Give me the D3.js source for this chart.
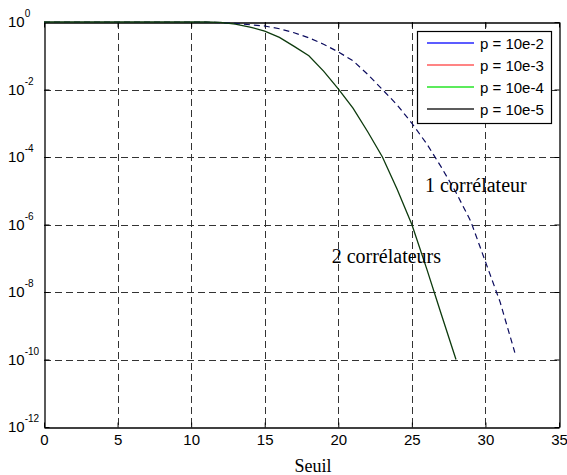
<!DOCTYPE html>
<html><head><meta charset="utf-8">
<script src="https://cdn.jsdelivr.net/npm/d3@7"></script>
<style>body{margin:0;background:#fff}svg{display:block}</style>
</head><body>
<svg id="c" width="567" height="475"></svg>
<script>
// ---- data ----
const seuil2 = [0,1,2,3,4,5,6,7,8,9,10,11,12,13,14,15,16,17,18,19,20,21,22,23,24,25,26,27,28];
const pfa2 = [1,1,1,1,1,1,1,1,1,1,1,1,0.98,0.87,0.71,0.54,0.35,0.19,0.1,3.5e-2,1.05e-2,2.8e-3,5.6e-4,1.0e-4,1.1e-5,1.0e-6,5.0e-8,2.2e-9,1e-10];
const seuil1 = [0,1,2,3,4,5,6,7,8,9,10,11,12,13,14,15,16,17,18,19,20,21,22,23,24,25,26,27,28,29,30,31,32];
const pfa1 = [1,1,1,1,1,1,1,1,1,1,1,0.99,0.96,0.91,0.83,0.76,0.63,0.48,0.34,0.22,0.13,7.1e-2,2.8e-2,1.0e-2,3.5e-3,1.0e-3,2.5e-4,5.0e-5,8.9e-6,1.26e-6,7.9e-8,5.0e-9,1.6e-10];
const legendLabels = ["p = 10e-2","p = 10e-3","p = 10e-4","p = 10e-5"];
const legendColors = ["#0000ff","#ff4040","#00e000","#000000"];
const xTicks = [0,5,10,15,20,25,30,35];
const yExps = [0,-2,-4,-6,-8,-10,-12];
const annotations = [
  {text:"1 corrélateur", x:25.9, y:9.3e-6},
  {text:"2 corrélateurs", x:19.55, y:7.2e-8}
];
const xTitle = "Seuil";

// ---- drawing ----
const svg = d3.select("#c");
const L=44,R=559,T=22,B=427;
const x = d3.scaleLinear().domain([0,35]).range([L,R]);
const y = d3.scaleLog().domain([1e-12,1]).range([B,T]);
const yTicks = yExps.map(e=>Math.pow(10,e));

svg.append("rect").attr("x",0).attr("y",0).attr("width",567).attr("height",475).attr("fill","#fff");

// grid
const grid = svg.append("g").attr("stroke","#333").attr("stroke-width",1).attr("stroke-dasharray","7,4").attr("fill","none");
xTicks.slice(1,-1).forEach(v=>{
  grid.append("line").attr("x1",Math.round(x(v))+0.5).attr("x2",Math.round(x(v))+0.5).attr("y1",T).attr("y2",B);
});
yTicks.slice(1,-1).forEach(v=>{
  grid.append("line").attr("y1",Math.round(y(v))+0.5).attr("y2",Math.round(y(v))+0.5).attr("x1",L).attr("x2",R);
});

// axes
const fontSans = "'Liberation Sans', Arial, Helvetica, sans-serif";
const gx = svg.append("g").attr("transform",`translate(0,${B+0.5})`)
  .call(d3.axisBottom(x).tickValues(xTicks).tickSizeInner(-5).tickSizeOuter(0).tickPadding(7).tickFormat(d3.format("d")));
gx.selectAll("text").attr("font-family",fontSans).attr("font-size",15).attr("fill","#000");
const gxt = svg.append("g").attr("transform",`translate(0,${T+0.5})`)
  .call(d3.axisTop(x).tickValues(xTicks).tickSizeInner(-5).tickSizeOuter(0).tickFormat(""));
const gy = svg.append("g").attr("transform",`translate(${L+0.5},0)`)
  .call(d3.axisLeft(y).tickValues(yTicks).tickSizeInner(-5).tickSizeOuter(0).tickFormat(""));
const gyr = svg.append("g").attr("transform",`translate(${R+0.5},0)`)
  .call(d3.axisRight(y).tickValues(yTicks).tickSizeInner(-5).tickSizeOuter(0).tickFormat(""));
[gx,gxt,gy,gyr].forEach(g=>{g.selectAll("path").attr("stroke","#000").attr("stroke-width",1.3);g.selectAll("line").attr("stroke","#000");});

// y labels
yExps.forEach(e=>{
  const t = svg.append("text").attr("x",8).attr("y",y(Math.pow(10,e))+5)
    .attr("font-family",fontSans).attr("font-size",15).attr("fill","#000");
  t.append("tspan").text("10");
  t.append("tspan").attr("dy",-10).attr("font-size",10).text(String(e));
});

// curves
const lineGen = d3.line().x(d=>x(d[0])).y(d=>y(d[1]));
svg.append("path").datum(seuil1.map((s,i)=>[s,pfa1[i]]))
  .attr("d",lineGen).attr("fill","none").attr("stroke","#0b0b5e").attr("stroke-width",1.2).attr("stroke-dasharray","6,4");
svg.append("path").datum(seuil2.map((s,i)=>[s,pfa2[i]]))
  .attr("d",lineGen).attr("fill","none").attr("stroke","#0d3a0d").attr("stroke-width",1.3);

// annotations
const fontSerif = "'Liberation Serif', 'Times New Roman', Times, serif";
annotations.forEach(a=>{
  svg.append("text").attr("x",x(a.x)).attr("y",y(a.y)).attr("font-family",fontSerif)
    .attr("font-size",20).attr("fill","#000").text(a.text);
});
svg.append("text").attr("x",313).attr("y",472).attr("text-anchor","middle")
  .attr("font-family",fontSerif).attr("font-size",18).attr("fill","#000").text(xTitle);

// legend
const lg = svg.append("g");
lg.append("rect").attr("x",417.5).attr("y",31.5).attr("width",134).attr("height",92)
  .attr("fill","#fff").attr("stroke","#000").attr("stroke-width",1.2);
const ly = [43,65,87,109];
legendLabels.forEach((lab,i)=>{
  lg.append("rect").attr("x",427).attr("width",47).attr("y",ly[i]-0.75).attr("height",1.5)
    .attr("fill",legendColors[i]).attr("opacity",0.85);
  lg.append("text").attr("x",480).attr("y",ly[i]+5.5).attr("font-family",fontSans)
    .attr("font-size",15).attr("fill","#000").text(lab);
});
</script>
</body></html>
